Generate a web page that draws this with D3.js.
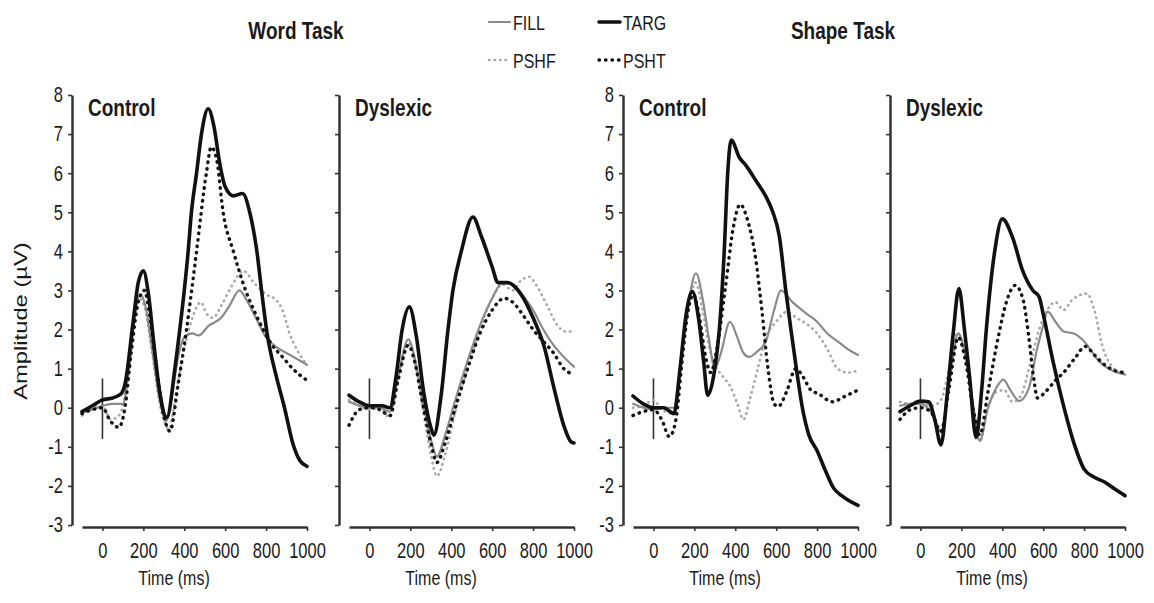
<!DOCTYPE html>
<html>
<head>
<meta charset="utf-8">
<script src="https://cdn.jsdelivr.net/npm/d3@7"></script>
<style>
  body { margin: 0; background: #fff; }
  svg { display: block; font-family: "Liberation Sans", Arial, sans-serif; }
</style>
</head>
<body>
<svg id="chart" width="1154" height="603"></svg>
<script>
// ---- data ----
const tasks = ["Word Task", "Shape Task"];
const groups = ["Control", "Dyslexic", "Control", "Dyslexic"];
const conditions = ["PSHF", "FILL", "PSHT", "TARG"]; // draw order
const legendRows = [["FILL", "TARG"], ["PSHF", "PSHT"]];
const yTicks = [-3, -2, -1, 0, 1, 2, 3, 4, 5, 6, 7, 8];
const xTicks = [0, 200, 400, 600, 800, 1000];

// [time ms, amplitude uV]
const wordControlFILL = [[-100,-0.1],[-50,-0.05],[0,0.05],[50,0.1],[100,0.1],[130,1.0],[160,2.4],[185,2.9],[210,2.6],[240,1.6],[280,0.2],[310,-0.35],[340,0.3],[370,1.3],[400,1.8],[440,1.9],[470,1.85],[520,2.1],[580,2.3],[620,2.6],[670,3.0],[700,2.8],[750,2.3],[800,1.8],[850,1.55],[900,1.4],[950,1.25],[1000,1.1]];
const wordControlTARG = [[-100,-0.1],[-50,0.05],[0,0.2],[50,0.25],[90,0.35],[110,0.6],[150,2.2],[175,3.2],[200,3.5],[225,2.9],[250,1.7],[280,0.4],[315,-0.25],[354,1.0],[378,2.0],[400,3.0],[419,4.0],[435,5.0],[460,6.0],[484,7.0],[517,7.65],[545,7.2],[575,6.2],[600,5.65],[640,5.42],[685,5.48],[720,5.0],[755,4.0],[780,2.9],[805,1.9],[850,0.8],[890,0.0],[930,-0.9],[965,-1.35],[1000,-1.5]];
const wordControlPSHF = [[-100,-0.2],[-50,0.0],[0,0.05],[40,-0.3],[80,-0.2],[110,0.3],[140,1.6],[180,2.8],[210,2.5],[240,1.5],[280,0.1],[325,-0.55],[360,0.4],[400,1.5],[440,2.3],[480,2.7],[510,2.4],[540,2.3],[580,2.6],[630,3.1],[690,3.5],[740,3.2],[800,2.9],[850,2.75],[880,2.5],[915,1.9],[960,1.4],[1000,1.1]];
const wordControlPSHT = [[-100,-0.15],[-50,-0.05],[0,0.0],[40,-0.35],[80,-0.5],[110,0.0],[140,1.4],[180,2.8],[205,3.0],[230,2.4],[260,1.2],[300,-0.2],[330,-0.6],[370,0.6],[411,2.0],[460,4.0],[508,6.0],[532,6.67],[560,6.3],[590,5.0],[640,4.0],[700,3.0],[740,2.5],[786,2.0],[830,1.6],[880,1.3],[930,1.0],[1000,0.7]];

const wordDyslexicFILL = [[-100,0.15],[-50,0.05],[0,0.0],[50,0.0],[100,-0.1],[140,0.8],[190,1.75],[220,1.3],[260,0.2],[300,-0.8],[330,-1.25],[370,-0.7],[420,0.2],[480,1.2],[540,2.1],[600,2.8],[650,3.2],[700,3.15],[760,2.8],[800,2.5],[850,2.0],[900,1.6],[950,1.3],[1000,1.05]];
const wordDyslexicTARG = [[-100,0.32],[-50,0.15],[0,0.05],[60,0.05],[100,0.0],[130,0.8],[160,2.0],[195,2.58],[230,1.8],[265,0.4],[300,-0.5],[315,-0.7],[350,0.3],[384,2.0],[408,3.0],[449,4.0],[506,4.88],[546,4.4],[600,3.6],[628,3.2],[676,3.2],[741,2.9],[800,2.3],[855,1.55],[900,0.55],[953,-0.5],[985,-0.87],[1000,-0.9]];
const wordDyslexicPSHF = [[-100,0.2],[-50,0.05],[0,-0.05],[50,0.0],[100,-0.25],[140,0.8],[190,1.65],[220,1.2],[260,0.0],[300,-1.2],[330,-1.75],[370,-1.2],[420,-0.1],[480,1.0],[540,2.0],[600,2.8],[650,3.15],[700,3.0],[740,3.25],[780,3.35],[820,3.1],[870,2.6],[920,2.1],[960,1.95],[1000,1.95]];
const wordDyslexicPSHT = [[-100,-0.45],[-50,-0.05],[0,0.0],[50,-0.05],[100,-0.2],[140,0.7],[190,1.6],[220,1.2],[260,0.1],[300,-0.9],[330,-1.4],[370,-0.9],[420,0.0],[480,1.0],[540,1.9],[600,2.5],[660,2.8],[700,2.7],[760,2.3],[800,2.0],[850,1.7],[900,1.4],[950,1.0],[1000,0.85]];

const shapeControlFILL = [[-100,0.1],[-50,0.0],[0,-0.05],[50,0.0],[100,0.0],[140,1.5],[175,2.8],[208,3.44],[240,2.8],[270,1.8],[300,1.0],[330,1.4],[374,2.2],[410,1.8],[440,1.4],[468,1.3],[510,1.45],[550,1.7],[590,2.5],[623,3.0],[680,2.7],[750,2.4],[800,2.2],[850,1.9],[900,1.7],[950,1.5],[1000,1.35]];
const shapeControlTARG = [[-100,0.3],[-50,0.1],[0,0.0],[50,0.0],[100,-0.15],[130,1.0],[160,2.4],[190,2.97],[220,2.3],[245,1.2],[265,0.32],[300,1.0],[322,2.0],[346,4.0],[363,6.0],[380,6.85],[420,6.4],[452,6.2],[502,5.8],[550,5.4],[584,5.0],[615,4.4],[647,3.0],[672,2.0],[700,0.95],[728,0.0],[760,-0.7],[800,-1.1],[840,-1.6],[880,-2.05],[920,-2.25],[1000,-2.5]];
const shapeControlPSHF = [[-100,0.0],[-50,0.05],[0,0.2],[40,-0.05],[100,-0.15],[140,1.4],[175,2.6],[205,3.2],[240,2.5],[270,1.6],[300,1.1],[340,0.8],[380,0.5],[410,0.1],[440,-0.3],[470,0.2],[510,1.0],[550,1.8],[600,2.2],[650,2.45],[700,2.3],[760,2.1],[800,1.9],[850,1.5],[900,1.0],[950,0.9],[1000,0.95]];
const shapeControlPSHT = [[-100,-0.2],[-50,-0.1],[0,-0.05],[40,-0.3],[78,-0.74],[110,-0.3],[140,1.2],[170,2.5],[195,2.9],[225,2.3],[255,1.3],[280,0.9],[310,1.5],[350,3.0],[390,4.6],[424,5.2],[460,4.8],[500,3.8],[530,2.5],[560,1.0],[590,0.1],[610,0.03],[650,0.4],[696,1.0],[730,0.8],[770,0.45],[810,0.35],[850,0.2],[880,0.15],[920,0.25],[960,0.35],[1000,0.45]];

const shapeDyslexicFILL = [[-100,0.05],[-50,0.1],[0,0.1],[50,-0.1],[100,-0.6],[140,0.6],[185,1.9],[220,1.3],[260,0.0],[290,-0.85],[330,0.0],[370,0.5],[405,0.72],[440,0.45],[483,0.17],[530,0.5],[570,1.5],[600,2.1],[622,2.46],[660,2.2],[700,1.95],[750,1.9],[790,1.75],[830,1.5],[870,1.2],[920,1.0],[960,0.9],[1000,0.85]];
const shapeDyslexicTARG = [[-100,-0.1],[-50,0.05],[0,0.17],[40,0.15],[70,-0.3],[100,-0.95],[130,0.3],[160,1.9],[188,3.05],[215,2.0],[240,0.8],[272,-0.76],[300,0.5],[322,2.0],[363,4.0],[400,4.83],[450,4.36],[500,3.5],[550,3.0],[580,2.84],[600,2.4],[650,1.14],[700,0.04],[750,-0.9],[800,-1.57],[850,-1.78],[900,-1.9],[950,-2.08],[1000,-2.25]];
const shapeDyslexicPSHF = [[-100,0.15],[-50,0.1],[0,0.1],[60,0.05],[100,0.2],[140,1.0],[180,1.9],[215,1.5],[250,0.3],[290,-0.85],[330,0.0],[370,0.4],[410,0.45],[450,0.15],[490,0.3],[540,1.2],[580,2.0],[620,2.5],[660,2.7],[700,2.5],[740,2.75],[790,2.9],[813,2.92],[850,2.5],[888,1.6],[938,1.05],[1000,0.85]];
const shapeDyslexicPSHT = [[-100,-0.3],[-50,-0.05],[0,0.0],[50,-0.1],[100,-0.6],[140,0.5],[185,1.8],[220,1.2],[260,-0.1],[290,-0.7],[330,0.4],[380,1.8],[420,2.7],[463,3.13],[500,2.8],[530,1.8],[555,0.7],[572,0.25],[610,0.4],[660,0.7],[700,0.9],[760,1.3],[805,1.57],[850,1.35],[900,1.1],[950,0.95],[1000,0.9]];

const panelData = [
  { FILL: wordControlFILL, TARG: wordControlTARG, PSHF: wordControlPSHF, PSHT: wordControlPSHT },
  { FILL: wordDyslexicFILL, TARG: wordDyslexicTARG, PSHF: wordDyslexicPSHF, PSHT: wordDyslexicPSHT },
  { FILL: shapeControlFILL, TARG: shapeControlTARG, PSHF: shapeControlPSHF, PSHT: shapeControlPSHT },
  { FILL: shapeDyslexicFILL, TARG: shapeDyslexicTARG, PSHF: shapeDyslexicPSHF, PSHT: shapeDyslexicPSHT }
];

// ---- styles ----
const lineStyle = {
  FILL: { stroke: "#8a8a8a", width: 2.2, dash: null },
  TARG: { stroke: "#111", width: 3.6, dash: null },
  PSHF: { stroke: "#a8a8a8", width: 2.6, dash: "0.5,5" },
  PSHT: { stroke: "#111", width: 3.4, dash: "0.5,6" }
};

// the figure's lettering is tall and narrow
const STRETCH = 1.3;
const textColor = "#1a1a1a";

const axisX = [72, 339, 623, 890];
const plotTop = 95, plotBottom = 525;
const svg = d3.select("#chart");

const y = d3.scaleLinear().domain([-3, 8]).range([plotBottom, plotTop]);

function addText(parent, x, yy, str, size, opts) {
  opts = opts || {};
  return parent.append("text")
    .attr("transform", `translate(${x},${yy}) scale(1,${STRETCH})`)
    .attr("text-anchor", opts.anchor || "start")
    .style("font-size", size + "px")
    .style("font-weight", opts.bold ? "bold" : "normal")
    .attr("fill", textColor)
    .text(str);
}

function styleAxis(g) {
  g.select(".domain").attr("stroke", "#333").attr("stroke-width", 2.5);
  g.selectAll(".tick line").attr("stroke", "#333").attr("stroke-width", 1.6);
  g.selectAll(".tick text").attr("fill", textColor).style("font-size", "16.5px")
    .style("font-family", "'Liberation Sans', Arial, sans-serif")
    .attr("transform", `scale(1,${STRETCH})`);
}

panelData.forEach((series, i) => {
  const ax = axisX[i];
  const x = d3.scaleLinear().domain([-100, 1000]).range([ax + 10, ax + 235]);
  const g = svg.append("g");

  // y axis
  const yAxis = d3.axisLeft(y).tickValues(yTicks).tickSize(4).tickSizeOuter(0).tickPadding(5)
    .tickFormat(i % 2 === 0 ? (d => String(d)) : "");
  g.append("g").attr("transform", `translate(${ax},0)`).call(yAxis).call(styleAxis);

  // x axis
  const xAxis = d3.axisBottom(x).tickValues(xTicks).tickSize(4).tickSizeOuter(0).tickPadding(8)
    .tickFormat(d => String(d));
  g.append("g").attr("transform", `translate(0,${plotBottom + 2})`).call(xAxis).call(styleAxis);

  // stimulus onset marker
  g.append("line")
    .attr("x1", x(0)).attr("x2", x(0))
    .attr("y1", y(0.75)).attr("y2", y(-0.8))
    .attr("stroke", "#333").attr("stroke-width", 1.6);

  const line = d3.line().x(d => x(d[0])).y(d => y(d[1])).curve(d3.curveMonotoneX);
  conditions.forEach(c => {
    const s = lineStyle[c];
    g.append("path")
      .datum(series[c])
      .attr("d", line)
      .attr("fill", "none")
      .attr("stroke", s.stroke)
      .attr("stroke-width", s.width)
      .attr("stroke-linecap", "round")
      .attr("stroke-linejoin", "round")
      .attr("stroke-dasharray", s.dash);
  });

  // panel label
  addText(g, ax + 16, 116, groups[i], 19, { bold: true });

  // x label
  addText(g, x(350), 585, "Time (ms)", 16, { anchor: "middle" });
});

// y axis title
svg.append("text")
  .attr("transform", `translate(27,321) rotate(-90) scale(${STRETCH - 0.05},1)`)
  .attr("text-anchor", "middle")
  .style("font-size", "19px").attr("fill", textColor)
  .text("Amplitude (µV)");

// task titles
const titleX = [296, 843];
tasks.forEach((t, i) => addText(svg, titleX[i], 39, t, 19, { anchor: "middle", bold: true }));

// legend
const legX = [488, 598];
const legY = [22, 60];
legendRows.forEach((row, r) => {
  row.forEach((c, k) => {
    const s = lineStyle[c];
    const lg = svg.append("g").attr("transform", `translate(${legX[k]},${legY[r]})`);
    lg.append("line")
      .attr("x1", 1).attr("x2", 22)
      .attr("stroke", s.stroke).attr("stroke-width", s.width)
      .attr("stroke-linecap", "round")
      .attr("stroke-dasharray", s.dash);
    addText(lg, 25, 7.5, c, 16);
  });
});
</script>
</body>
</html>
